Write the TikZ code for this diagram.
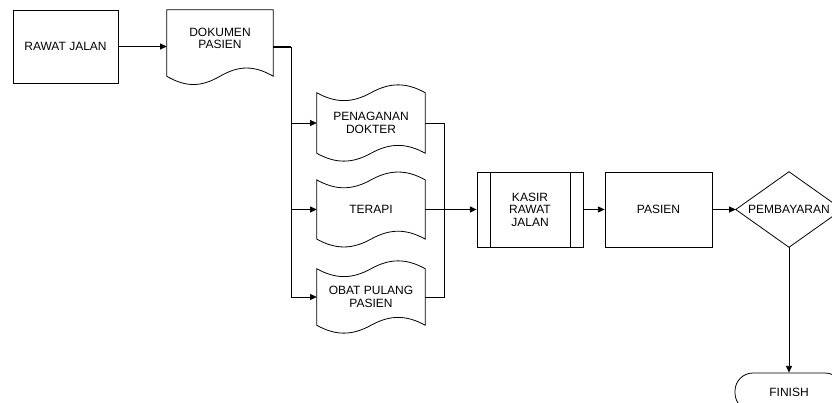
\documentclass[tikz,border=0pt]{standalone}
\usepackage{fontspec}
\setmainfont{Liberation Sans}
\usetikzlibrary{arrows.meta,calc}
\newcommand\tapeoutline[1]{%
\draw[shp] (#1.north west) .. controls ($(#1.north west)+(19,10.5)$) and ($(#1.north)+(-19,10.5)$) .. (#1.north)
 .. controls ($(#1.north)+(19,-10.5)$) and ($(#1.north east)+(-19,-10.5)$) .. (#1.north east)
 -- (#1.south east) .. controls ($(#1.south east)+(-19,-10.5)$) and ($(#1.south)+(19,-10.5)$) .. (#1.south)
 .. controls ($(#1.south)+(-19,10.5)$) and ($(#1.south west)+(19,10.5)$) .. (#1.south west) -- cycle;}
\begin{document}
\begin{tikzpicture}[x=0.75pt,y=-0.75pt,
  shp/.style={draw=black, line width=0.6pt},
  lbl/.style={font=\fontsize{9pt}{9.4pt}\selectfont, align=center, inner sep=0pt},
  frame/.style={inner sep=0pt, draw=none},
  conn/.style={draw=black, line width=0.6pt},
  arr/.style={conn, -{Triangle[length=5pt,width=4.5pt]}}
]
\useasboundingbox (0,0) rectangle (832,403);
\clip (0,0) rectangle (832,403);
\fill[white] (0,0) rectangle (832,403);

% nodes
\node[shp, lbl, minimum width=78.75pt, minimum height=54.75pt] (rj) at (65.5,46.5) {RAWAT JALAN};
\node[frame, minimum width=79.5pt, minimum height=49.5pt] (doc) at (220,43) {};
\node[lbl] (doctxt) at (220,38.5) {DOKUMEN\\PASIEN};
\node[frame, lbl, minimum width=81pt, minimum height=45pt] (t1) at (371,123) {PENAGANAN\\DOKTER};
\node[frame, lbl, minimum width=81pt, minimum height=44pt] (t2) at (371,209.5) {TERAPI};
\node[frame, lbl, minimum width=81pt, minimum height=42pt] (t3) at (371,297) {OBAT PULANG\\PASIEN};
\node[shp, lbl, minimum width=79.5pt, minimum height=56.25pt] (kas) at (530,209.5) {KASIR\\RAWAT\\JALAN};
\node[shp, lbl, minimum width=80.25pt, minimum height=56.25pt] (pas) at (658.5,209.5) {PASIEN};
\node[frame, lbl, minimum width=79.5pt, minimum height=56.25pt] (dia) at (789,209.5) {PEMBAYARAN};
\node[shp, lbl, minimum width=81pt, minimum height=28.5pt, rounded corners=13.5pt] (fin) at (789,392) {FINISH};

% shape outlines
\draw[shp] (doc.north west) -- (doc.north east) -- (doc.south east)
 .. controls ($(doc.south east)+(-19,-11)$) and ($(doc.south)+(19,-11)$) .. (doc.south)
 .. controls ($(doc.south)+(-19,11)$) and ($(doc.south west)+(19,11)$) .. (doc.south west) -- cycle;
\tapeoutline{t1}
\tapeoutline{t2}
\tapeoutline{t3}
\draw[shp] ($(kas.north west)+(14,0)$) -- ($(kas.south west)+(14,0)$);
\draw[shp] ($(kas.north east)+(-13,0)$) -- ($(kas.south east)+(-13,0)$);
\draw[shp] (dia.west) -- (dia.north) -- (dia.east) -- (dia.south) -- cycle;

% connectors
\coordinate (tr) at (291,47);
\coordinate (mr) at (444,123);
\draw[arr] (rj.east) -- (rj.east -| doc.west);
\draw[conn, line width=1.1pt] (doc.east |- tr) -- (tr);
\draw[conn] (tr) -- (tr |- t3.west);
\draw[arr] (tr |- t1.west) -- (t1.west);
\draw[arr] (tr |- t2.west) -- (t2.west);
\draw[arr] (tr |- t3.west) -- (t3.west);
\draw[conn] (t1.east) -- (t1.east -| mr) -- (t3.east -| mr) -- (t3.east);
\draw[arr, line width=0.9pt] (t2.east) -- (kas.west);
\draw[arr] (kas.east) -- (pas.west);
\draw[arr] (pas.east) -- (dia.west);
\draw[arr] (dia.south) -- (fin.north);
\end{tikzpicture}
\end{document}
